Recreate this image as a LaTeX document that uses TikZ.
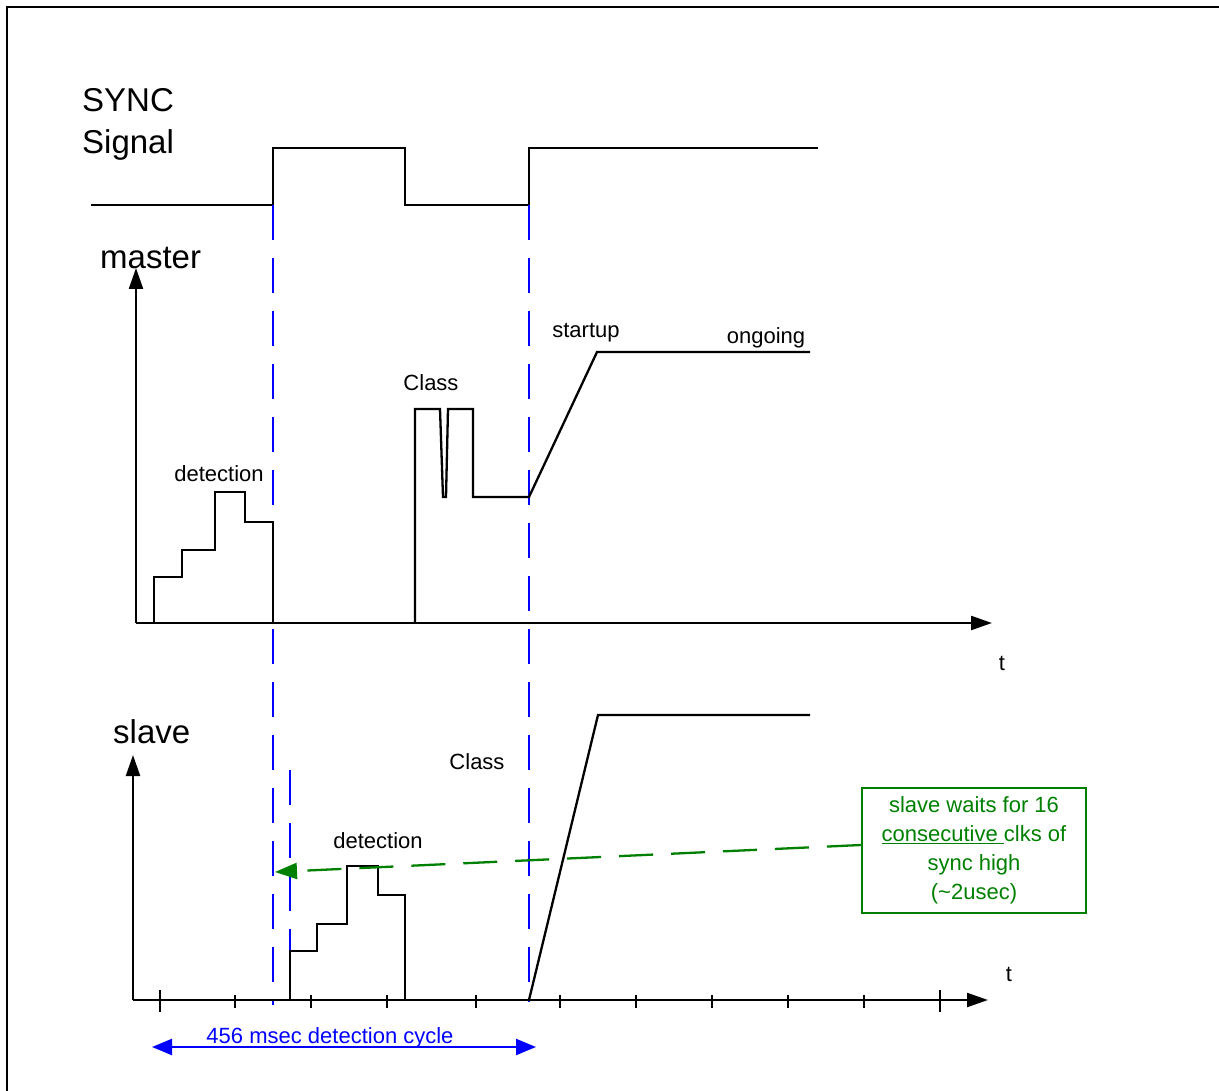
\documentclass[tikz,border=0pt]{standalone}
\usepackage{fontspec}
\setmainfont{Liberation Sans}
\usetikzlibrary{arrows.meta}
\definecolor{sblue}{RGB}{0,0,255}
\definecolor{sgreen}{RGB}{0,128,0}
\begin{document}
\begin{tikzpicture}[x=1pt,y=-1pt,
  sig/.style={line width=2.3pt, line join=miter},
  axis/.style={line width=2.3pt, -{Triangle[length=21pt,width=14pt]}},
  vdash/.style={sblue, line width=2.3pt, dash pattern=on 35pt off 18pt},
  lbl/.style={font=\fontsize{22}{26}\selectfont, anchor=base, inner sep=0pt},
  big/.style={font=\fontsize{33}{38}\selectfont, anchor=base west, inner sep=0pt},
  shorttick/.style={line width=2pt},
  longtick/.style={line width=2.2pt}]
\useasboundingbox (0,0) rectangle (1219,1091);
% frame
\draw[line width=2.5pt] (7,1091) -- (7,7) -- (1219,7);

% titles
\node[big] (sync) at (82,112) {SYNC};
\node[big] (signal) at (82,154) {Signal};
\node[big] (master) at (100,269) {master};
\node[big] (slave) at (113,743) {slave};

% SYNC waveform
\draw[sig] (91,205) -- (273,205) -- (273,148) -- (405,148) -- (405,205) -- (529,205) -- (529,148) -- (818,148);

% blue dashed markers
\draw[vdash] (273,205) -- (273,1005);
\draw[vdash] (529,205) -- (529,1002);
\draw[vdash] (290,770) -- (290,951);

% master axes
\coordinate (mo) at (136,623);
\coordinate (my) at (136,268);
\coordinate (mx) at (992,623);
\draw[axis] (mo) -- (my);
\draw[axis] (mo) -- (mx);
\node[lbl] (mt) at (1002,670) {t};

% master waveform
\draw[sig] (154,623) -- (154,577) -- (182,577) -- (182,550) -- (215,550) -- (215,492) -- (245,492) -- (245,522) -- (273,522) -- (273,623);
\draw[sig] (415,623) -- (415,409) -- (440,409) -- (443,497) -- (446,497) -- (448,409) -- (473,409) -- (473,497) -- (529,497) -- (597,352) -- (810,352);
\node[lbl] (mdet) at (219,481) {detection};
\node[lbl] (mclass) at (431,391) {Class};
\node[lbl] (mstart) at (586,338) {startup};
\node[lbl] (mongo) at (766,344) {ongoing};

% slave axes
\coordinate (so) at (133,1000);
\coordinate (sy) at (133,755);
\coordinate (sx) at (988,1000);
\draw[axis] (so) -- (sy);
\draw[axis] (so) -- (sx);
\node[lbl] (st) at (1009,981) {t};
\foreach \x in {235,311,387,476,560,636,712,788,864}
  \draw[shorttick] (\x,995) -- (\x,1008);
\foreach \x in {160,940}
  \draw[longtick] (\x,990) -- (\x,1012);

% slave waveform
\draw[sig] (290,1000) -- (290,951) -- (317,951) -- (317,924) -- (347,924) -- (347,866) -- (378,866) -- (378,895) -- (405,895) -- (405,1000);
\draw[sig] (529,1000) -- (598,715) -- (810,715);
\node[lbl] (sdet) at (378,848) {detection};
\node[lbl] (sclass) at (477,769) {Class};

% green note
\node[draw=sgreen, line width=2.3pt, minimum width=224pt, minimum height=125pt, inner sep=0pt,
      text=sgreen, align=center, font=\fontsize{22}{29}\selectfont] (gbox) at (974,850.5)
  {slave waits for 16\\\underline{consecutive\ }clks of\\sync high\\(\textasciitilde 2usec)};
\coordinate (gtip) at (275,872);
\draw[sgreen, line width=2.3pt, dash pattern=on 34pt off 18pt, -{Triangle[length=22pt,width=16pt]}]
  ([yshift=5.5pt]gbox.west) -- (gtip);

% detection cycle arrow
\coordinate (cl) at (152,1047);
\coordinate (cr) at (536,1047);
\draw[sblue, line width=2.3pt, {Triangle[length=20pt,width=16pt]}-{Triangle[length=20pt,width=16pt]}] (cl) -- (cr);
\node[lbl, text=sblue] (cyc) at (330,1043) {456 msec detection cycle};
\end{tikzpicture}
\end{document}
